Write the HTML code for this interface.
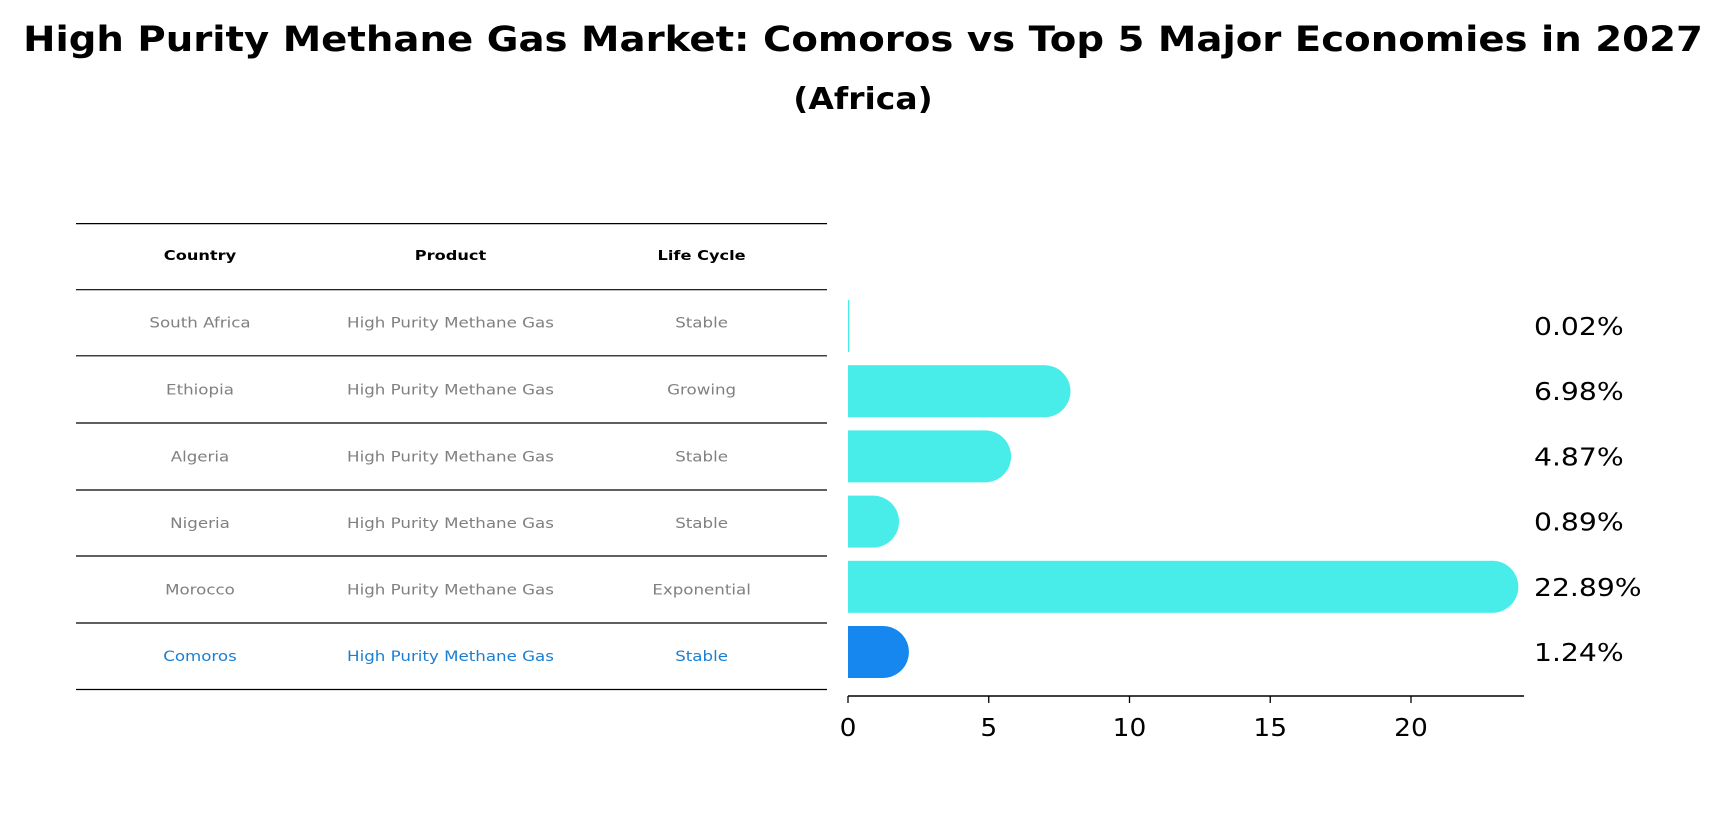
<!DOCTYPE html>
<html><head><meta charset="utf-8"><style>
body{margin:0;background:#fff;}
svg text{font-family:"DejaVu Sans","Liberation Sans",sans-serif;}
</style></head><body>
<svg id="c" width="1727" height="823" xmlns="http://www.w3.org/2000/svg">
<text x="863" y="51" text-anchor="middle" font-size="35" font-weight="bold" transform="translate(863,0) scale(1.105,1) translate(-863,0)">High Purity Methane Gas Market: Comoros vs Top 5 Major Economies in 2027</text>
<text x="863" y="109" text-anchor="middle" font-size="30" font-weight="bold" transform="translate(863,0) scale(1.1,1) translate(-863,0)">(Africa)</text>
<g id="tbl"></g>
<g id="bars"></g>
</svg>
<script>
const countries=["South Africa","Ethiopia","Algeria","Nigeria","Morocco","Comoros"];
const products=["High Purity Methane Gas","High Purity Methane Gas","High Purity Methane Gas","High Purity Methane Gas","High Purity Methane Gas","High Purity Methane Gas"];
const lifecycles=["Stable","Growing","Stable","Stable","Exponential","Stable"];
const values=[0.02,6.98,4.87,0.89,22.89,1.24];
const ticks=[0,5,10,15,20];
const NS="http://www.w3.org/2000/svg";
function mk(tag,attrs,parent){const e=document.createElementNS(NS,tag);for(const k in attrs)e.setAttribute(k,attrs[k]);parent.appendChild(e);return e;}
const tbl=document.getElementById('tbl'), bars=document.getElementById('bars');
const lineY=[223.6,289.7,355.8,423,490,556,623,689.5];
const colX=[200,450.5,701.6];
function stretch(t,x,k){t.setAttribute('transform',`translate(${x},0) scale(${k},1) translate(${-x},0)`);}
lineY.forEach((y,i)=>{const l=mk('line',{x1:76,x2:827,y1:y,y2:y,stroke:'#000','stroke-width':1.2},tbl);

});
["Country","Product","Life Cycle"].forEach((h,i)=>{const t=mk('text',{x:colX[i],y:260,'text-anchor':'middle','font-size':13.5,'font-weight':'bold'},tbl);t.textContent=h;stretch(t,colX[i],1.2);

});
const last=countries.length-1;
countries.forEach((c,r)=>{const y=(lineY[r+1]+lineY[r+2])/2+5;
[c,products[r],lifecycles[r]].forEach((v,i)=>{const t=mk('text',{x:colX[i],y:y,'text-anchor':'middle','font-size':14.5,fill:r===last?'#1a7fd4':'#808080'},tbl);t.textContent=v;stretch(t,colX[i],1.15);

});});
const x0=848, ux=28.15;
const xs=v=>x0+v*ux;
const bh=52, cr=26;
const yStart=326, yStep=65.2;
values.forEach((v,r)=>{const cy=yStart+r*yStep;
const col=r===last?'#1787F0':'#48EDEA';
const w=Math.max(xs(v)-x0,0.8);
const g=mk('g',{},bars);


mk('rect',{x:x0,y:cy-bh/2,width:w+0.5,height:bh,fill:col},g);
if(v>=0.1){mk('path',{d:`M${xs(v)},${cy-bh/2} A${cr},${cr} 0 0 1 ${xs(v)},${cy+bh/2} Z`,fill:col},g);}
const t=mk('text',{x:1534,y:cy+9,'font-size':25},bars);t.textContent=v.toFixed(2)+'%';stretch(t,1534,1.13);

});
const ax=mk('line',{x1:x0,x2:1524,y1:696,y2:696,stroke:'#000','stroke-width':1.5},bars);


ticks.forEach(v=>{mk('line',{x1:xs(v),x2:xs(v),y1:696,y2:703,stroke:'#000','stroke-width':1.3},bars);
const t=mk('text',{x:xs(v),y:736,'text-anchor':'middle','font-size':24.5},bars);t.textContent=v;stretch(t,xs(v),1.08);

});
</script>
</body></html>
